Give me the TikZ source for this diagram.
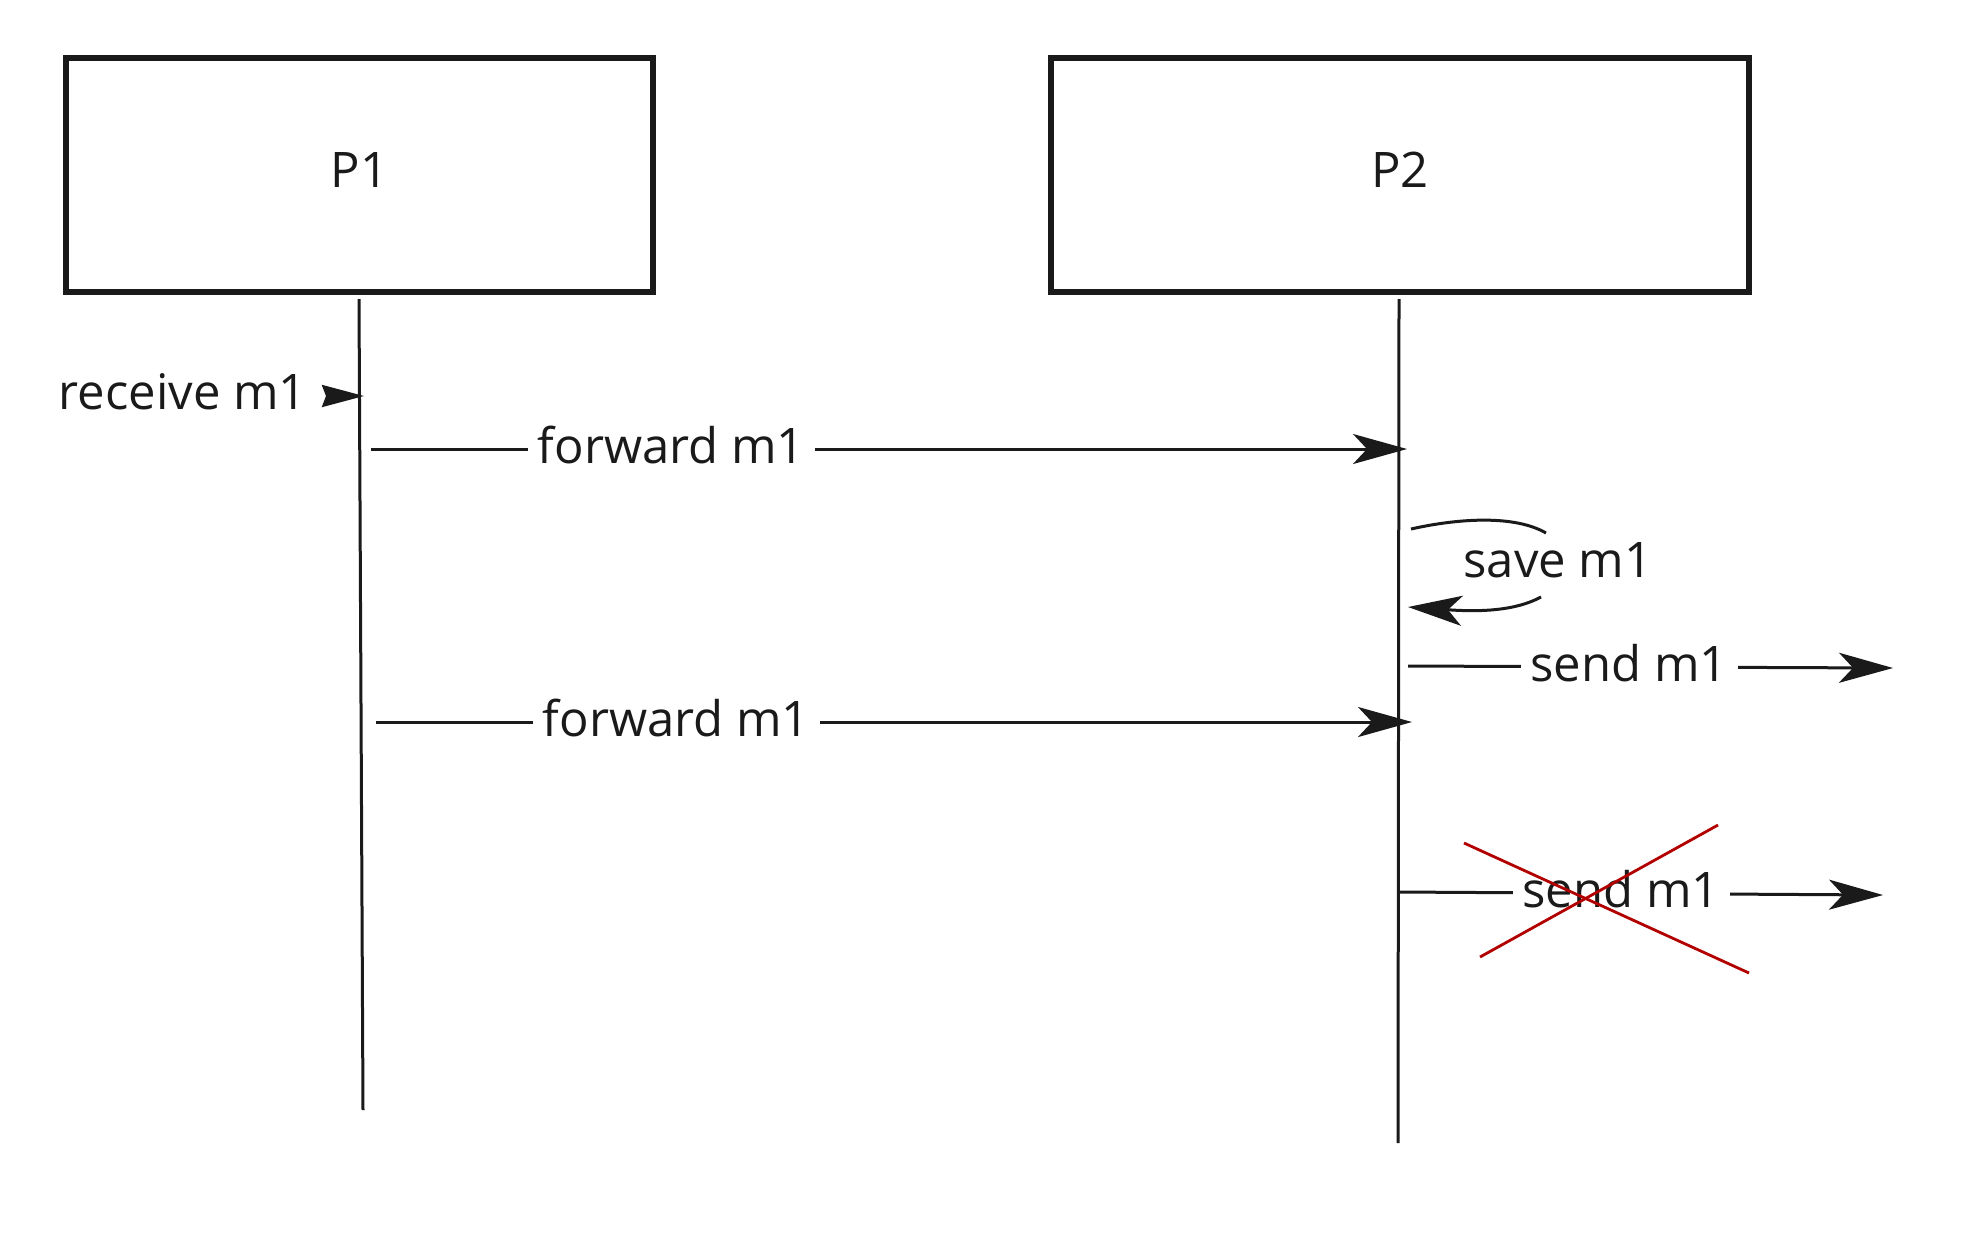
\documentclass[tikz,border=0pt]{standalone}
\usepackage{fontspec}
\setmainfont{Open Sans}
\usepackage{xcolor}
\usetikzlibrary{arrows.meta}
\definecolor{seqInk}{HTML}{1A1A1A}
\definecolor{seqRed}{HTML}{B20000}
\newcommand{\lbfont}{\fontsize{24.5}{28}\selectfont}

\begin{document}
\begin{tikzpicture}[x=0.5pt,y=-0.5pt,
  proc/.style={draw=seqInk,line width=2.8pt,minimum height=117pt,
    font=\lbfont,text=seqInk,inner sep=0pt,text depth=5pt},
  life/.style={seqInk,line width=1.5pt},
  msg/.style={seqInk,line width=1.5pt,
    -{Stealth[length=27pt,width=15pt,inset=7pt]}},
  lbl/.style={fill=white,font=\lbfont,text=seqInk,inner xsep=5pt,
    inner ysep=2pt,yshift=2pt},
  cross/.style={seqRed,line width=1.4pt}]
  \useasboundingbox (0,0) rectangle (1984,1255);
  % processes
  \node[proc,minimum width=293.5pt] (p1) at (359.5,175) {P1};
  \node[proc,minimum width=349pt] (p2) at (1400,175) {P2};
  \coordinate (p1top) at (359,299); \coordinate (p1end) at (363,1110);
  \coordinate (p2top) at (1399,299); \coordinate (p2end) at (1398,1143);
  \draw[life] (p1top) -- (p1end);
  \draw[life] (p2top) -- (p2end);
  % receive
  \node[font=\lbfont,text=seqInk,inner xsep=9.5pt] (recv) at (183,392) {receive m1};
  \coordinate (rcvIn) at (364,396);
  \draw[seqInk,line width=1.5pt,-{Stealth[length=21pt,width=11pt,inset=2pt]}]
    (recv.east |- rcvIn) -- (rcvIn);
  % forward m1
  \coordinate (fwdAs) at (371,449); \coordinate (fwdAe) at (1407,449);
  \coordinate (fwdBs) at (376,722); \coordinate (fwdBe) at (1412,722);
  \draw[msg] (fwdAs) -- node[lbl,pos=0.29] (fwdA) {forward m1} (fwdAe);
  \draw[msg] (fwdBs) -- node[lbl,pos=0.29] (fwdB) {forward m1} (fwdBe);
  % save m1
  \node[font=\lbfont,text=seqInk] (save) at (1558,560) {save m1};
  \coordinate (saveS) at (1411,529); \coordinate (saveU) at (1546,533);
  \coordinate (saveL) at (1541,597); \coordinate (saveE) at (1408,607);
  \draw[life] (saveS) .. controls (1460,518) and (1515,515) .. (saveU);
  \draw[msg] (saveL) .. controls (1515,611) and (1480,612) .. (saveE);
  % send m1
  \coordinate (sndAs) at (1408,666); \coordinate (sndAe) at (1893,668);
  \coordinate (sndBs) at (1399,892); \coordinate (sndBe) at (1883,895);
  \draw[msg] (sndAs) -- node[lbl,pos=0.456] (sndA) {send m1} (sndAe);
  \draw[msg] (sndBs) -- node[lbl,pos=0.459] (sndB) {send m1} (sndBe);
  % crossed out
  \draw[cross] (1464,843) -- (1749,973);
  \draw[cross] (1480,957) -- (1718,825);
\end{tikzpicture}
\end{document}
